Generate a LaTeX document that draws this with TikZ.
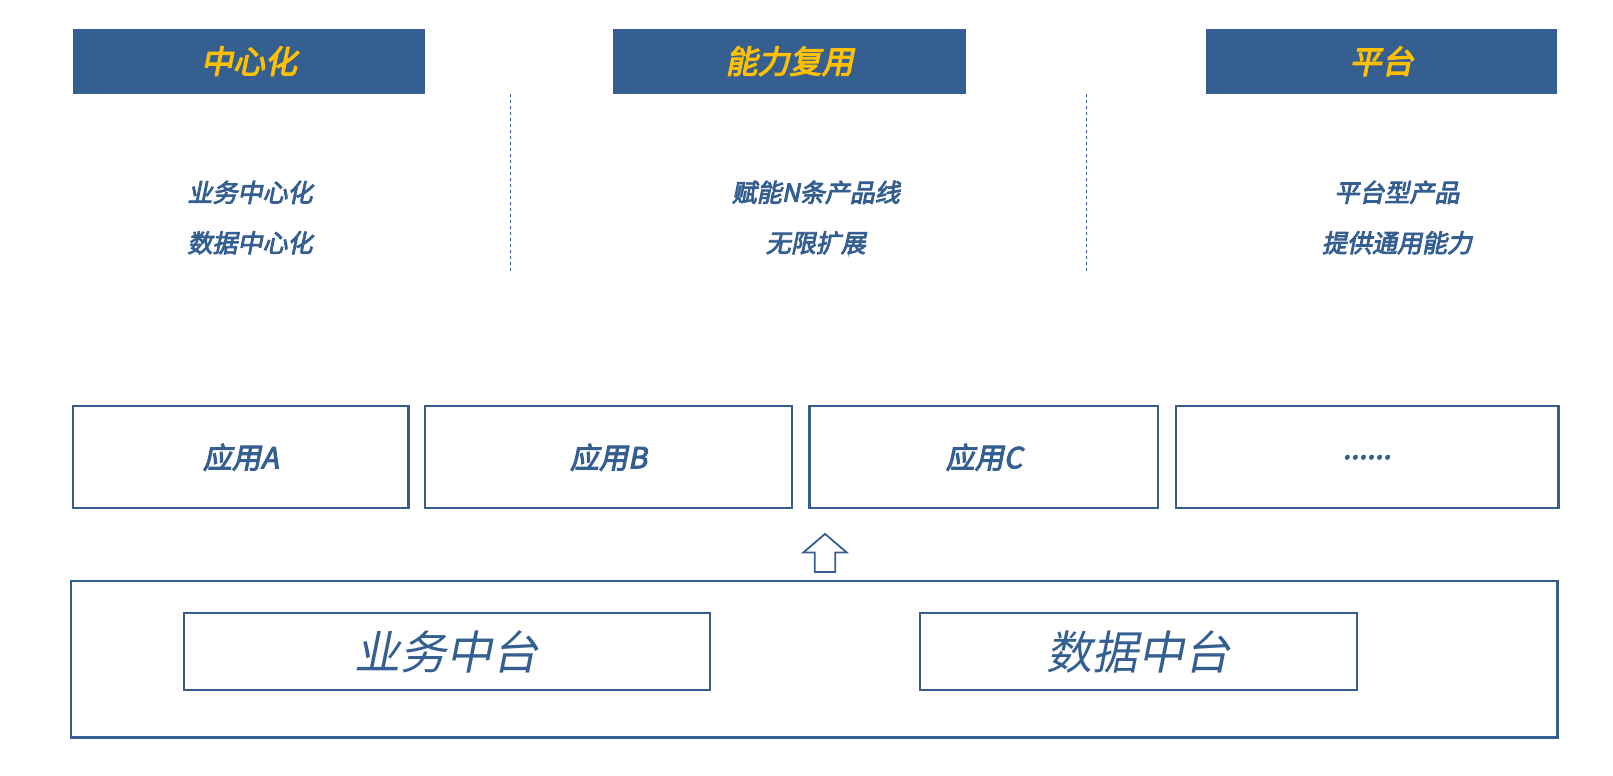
\documentclass[tikz,border=0pt]{standalone}
\usepackage{fontspec}
\newfontfamily\cjkb{Noto Sans CJK SC}[FakeSlant=0.2,FakeBold=3.5]
\newfontfamily\cjki{Noto Sans CJK SC}[FakeSlant=0.2]
\definecolor{navy}{HTML}{355F91}
\definecolor{gold}{HTML}{FFC000}
\begin{document}
\begin{tikzpicture}[x=1.0287pt,y=-1.0287pt,
  head/.style={fill=navy,draw=none,text=gold,font=\cjkb\fontsize{32}{32}\selectfont},
  desc/.style={text=navy,font=\cjkb\fontsize{25}{25}\selectfont},
  app/.style={draw=navy,line width=2.3pt,text=navy,font=\cjkb\fontsize{29}{29}\selectfont},
  plat/.style={draw=navy,line width=2.3pt,text=navy,font=\cjki\fontsize{46}{46}\selectfont},
  sep/.style={draw=navy,dashed,line width=1pt}]
\useasboundingbox (0,0) rectangle (1568,754.3);
\fill[navy] (71,28) rectangle (413,91) node[midway,head] (h1) {中心化};
\fill[navy] (596,28) rectangle (939,91) node[midway,head] (h2) {能力复用};
\fill[navy] (1172,28) rectangle (1514,91) node[midway,head] (h3) {平台};
\coordinate (s1a) at (496,91); \coordinate (s1b) at (496,263);
\coordinate (s2a) at (1056,91); \coordinate (s2b) at (1056,263);
\draw[sep] (s1a) -- (s1b); \draw[sep] (s2a) -- (s2b);
\node[desc] (d1) at (243,187) {业务中心化};
\node[desc] (d2) at (243,236) {数据中心化};
\node[desc] (d3) at (793,187) {赋能N条产品线};
\node[desc] (d4) at (793,236) {无限扩展};
\node[desc] (d5) at (1358,187) {平台型产品};
\node[desc] (d6) at (1358,236) {提供通用能力};
\draw[app] (71,395) rectangle (397,494) node[midway] (a1) {应用A};
\draw[app] (413,395) rectangle (770,494) node[midway] (a2) {应用B};
\draw[app] (787,395) rectangle (1126,494) node[midway] (a3) {应用C};
\draw[app] (1143,395) rectangle (1515,494) node[midway] (a4) {......};
\draw[navy,line width=1.8pt,fill=white] (792,556) -- (792,537) -- (781,537) -- (802,519) -- (823,537) -- (812,537) -- (812,556) -- cycle;
\draw[navy,line width=2.3pt] (69,565) rectangle (1514,717);
\draw[plat] (179,596) rectangle (690,671) node[midway] (p1) {业务中台};
\draw[plat] (894,596) rectangle (1319,671) node[midway] (p2) {数据中台};
\end{tikzpicture}
\end{document}
